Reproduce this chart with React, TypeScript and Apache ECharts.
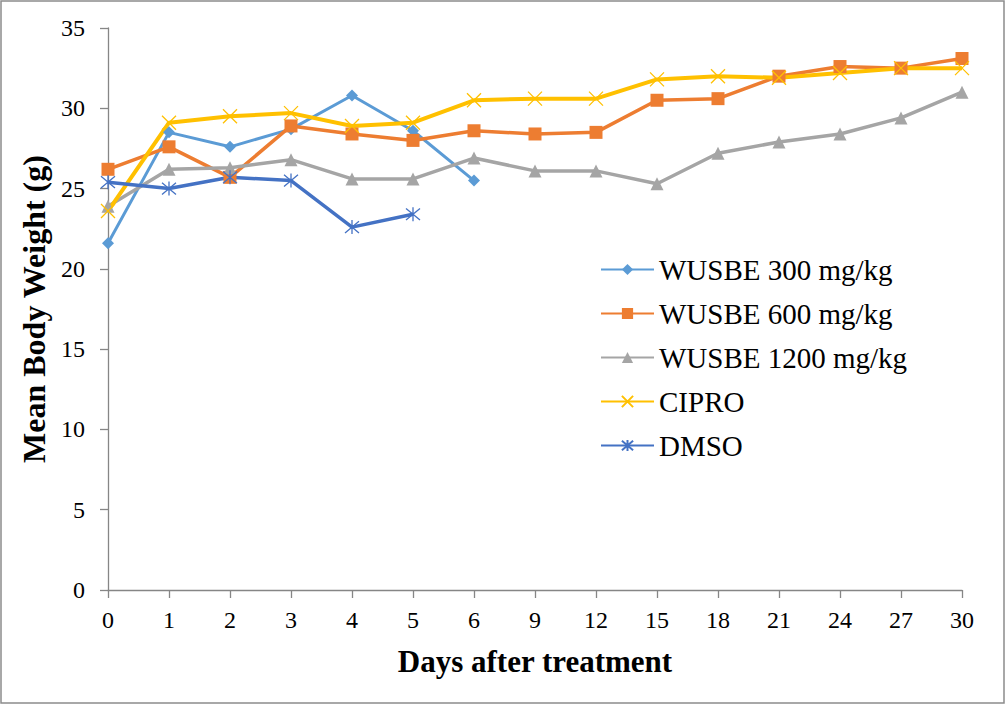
import React, { useEffect, useRef } from "react";
import * as echarts from "echarts";

const days = ["0", "1", "2", "3", "4", "5", "6", "9", "12", "15", "18", "21", "24", "27", "30"];
const wusbe300 = [21.6, 28.5, 27.6, 28.7, 30.8, 28.6, 25.5];
const wusbe600 = [26.2, 27.6, 25.7, 28.9, 28.4, 28.0, 28.6, 28.4, 28.5, 30.5, 30.6, 32.0, 32.6, 32.5, 33.1];
const wusbe1200 = [23.9, 26.2, 26.3, 26.8, 25.6, 25.6, 26.9, 26.1, 26.1, 25.3, 27.2, 27.9, 28.4, 29.4, 31.0];
const cipro = [23.6, 29.1, 29.5, 29.7, 28.9, 29.1, 30.5, 30.6, 30.6, 31.8, 32.0, 31.9, 32.2, 32.5, 32.5];
const dmso = [25.4, 25.0, 25.7, 25.5, 22.6, 23.4];

const seriesNames = ["WUSBE 300 mg/kg", "WUSBE 600 mg/kg", "WUSBE 1200 mg/kg", "CIPRO", "DMSO"];

const FONT = "'Liberation Serif', 'Times New Roman', serif";
const X_MARK = "path://M0,0L10,10M10,0L0,10";
const STAR_MARK = "path://M0,0L10,10M10,0L0,10M5,-1L5,11";

export default function App() {
  const ref = useRef<HTMLDivElement>(null);
  useEffect(() => {
    document.body.style.margin = "0";
    const chart = echarts.init(ref.current!, null, { renderer: "svg" });
    const mk = (name: string, data: number[], color: string, symbol: string, symbolSize: number, width: number, stroke = false) => ({
      name,
      type: "line",
      data,
      symbol,
      symbolSize,
      showSymbol: true,
      lineStyle: { color, width },
      itemStyle: stroke
        ? { color: "rgba(0,0,0,0)", borderColor: color, borderWidth: 1.3 }
        : { color, borderWidth: 0 },
      emphasis: { disabled: true },
      z: 3,
    });
    chart.setOption({
      animation: false,
      backgroundColor: "#ffffff",
      grid: { left: 108, right: 46, top: 28, bottom: 116, containLabel: false },
      legend: {
        orient: "vertical",
        left: 595,
        top: 250,
        itemWidth: 53,
        itemHeight: 14,
        itemGap: 15,
        data: seriesNames,
        textStyle: { fontFamily: FONT, fontSize: 29, lineHeight: 29, color: "#000" },
      },
      xAxis: {
        type: "category",
        data: days,
        boundaryGap: false,
        name: "Days after treatment",
        nameLocation: "middle",
        nameGap: 56,
        nameTextStyle: { fontFamily: FONT, fontSize: 31, fontWeight: "bold", color: "#000" },
        axisLine: { lineStyle: { color: "#868686", width: 1.3 } },
        axisTick: { show: true, alignWithLabel: true, length: 8, lineStyle: { color: "#868686", width: 1.3 } },
        axisLabel: { fontFamily: FONT, fontSize: 24, color: "#000", margin: 18, interval: 0 },
        splitLine: { show: false },
      },
      yAxis: {
        type: "value",
        min: 0,
        max: 35,
        interval: 5,
        name: "Mean Body Weight (g)",
        nameLocation: "middle",
        nameGap: 55,
        nameRotate: 90,
        nameTextStyle: { fontFamily: FONT, fontSize: 32, fontWeight: "bold", color: "#000" },
        axisLine: { show: true, lineStyle: { color: "#868686", width: 1.3 } },
        axisTick: { show: true, length: 8, lineStyle: { color: "#868686", width: 1.3 } },
        axisLabel: { fontFamily: FONT, fontSize: 24, color: "#000", margin: 23 },
        splitLine: { show: false },
      },
      graphic: [
        {
          type: "rect",
          shape: { x: 1, y: 1, width: 1003, height: 702 },
          style: { fill: "none", stroke: "#8c8c8c", lineWidth: 1.5 },
          silent: true,
        },
      ],
      series: [
        mk(seriesNames[0], wusbe300, "#5B9BD5", "diamond", 12, 3),
        mk(seriesNames[1], wusbe600, "#ED7D31", "rect", 13, 3.5),
        mk(seriesNames[2], wusbe1200, "#A5A5A5", "triangle", 13, 3.5),
        mk(seriesNames[3], cipro, "#FFC000", X_MARK, 14, 4, true),
        mk(seriesNames[4], dmso, "#4472C4", STAR_MARK, 14, 3.5, true),
      ],
    });
    return () => chart.dispose();
  }, []);
  return <div ref={ref} style={{ width: 1008, height: 706 }} />;
}
